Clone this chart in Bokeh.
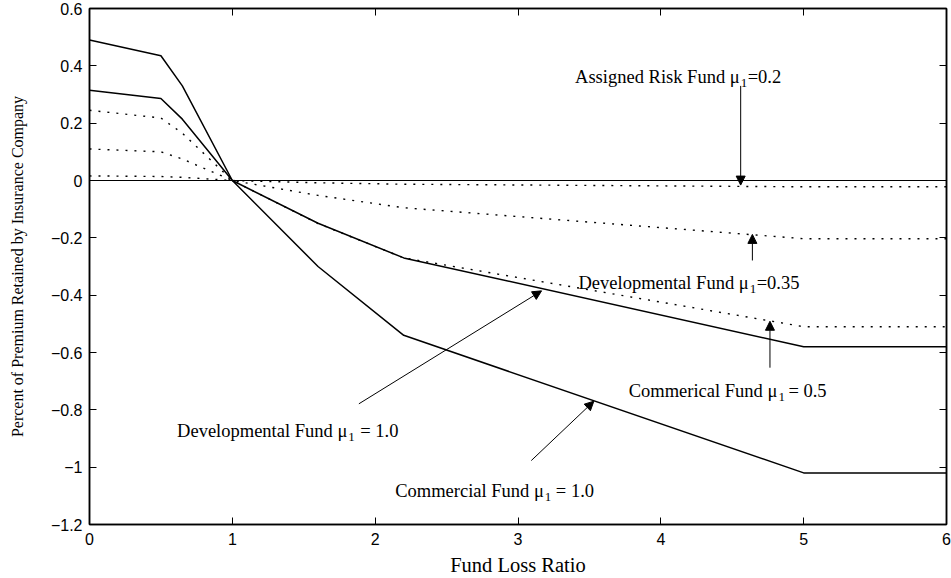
from bokeh.plotting import figure
from bokeh.models import (Range1d, LinearAxis, FixedTicker, Arrow, NormalHead,
                          CustomJSTickFormatter, ColumnDataSource)
from bokeh.core.properties import value
from bokeh.embed import file_html
from bokeh.resources import INLINE

# ---------------- data ----------------
loss_ratio = [0.0, 0.5, 0.65, 1.0, 1.6, 2.2, 5.0, 6.0]
commercial_mu10 = [0.49, 0.435, 0.33, 0.0, -0.30, -0.54, -1.02, -1.02]
developmental_mu10 = [0.315, 0.286, 0.214, 0.0, -0.149, -0.27, -0.58, -0.58]
commercial_mu05 = [0.245, 0.218, 0.165, 0.0, -0.15, -0.27, -0.51, -0.51]
developmental_mu035 = [0.11, 0.10, 0.075, 0.0, -0.052, -0.095, -0.203, -0.203]
assigned_mu02 = [0.016, 0.014, 0.011, 0.0, -0.008, -0.013, -0.022, -0.022]
zero_x = [0.0, 6.0]
zero_y = [0.0, 0.0]

x_ticks = [0, 1, 2, 3, 4, 5, 6]
x_tick_labels = ["0", "1", "2", "3", "4", "5", "6"]
y_ticks = [0.6, 0.4, 0.2, 0.0, -0.2, -0.4, -0.6, -0.8, -1.0, -1.2]
y_tick_labels = ["0.6", "0.4", "0.2", "0", "\u22120.2", "\u22120.4", "\u22120.6",
                 "\u22120.8", "\u22121", "\u22121.2"]

# annotation labels: main part, subscript, remainder (anchored at end of "μ")
ann_main = ["Assigned Risk Fund \u03bc", "Developmental Fund \u03bc",
            "Commerical Fund \u03bc", "Developmental Fund \u03bc",
            "Commercial Fund \u03bc"]
ann_sub = ["1", "1", "1", "1", "1"]
ann_rest = ["=0.2", "=0.35", "= 0.5", "= 1.0", "= 1.0"]
ann_x = [4.552, 4.615, 4.816, 1.805, 3.181]
ann_y = [0.361, -0.357, -0.735, -0.874, -1.084]
ann_rest_gap = [8, 8, 11, 13, 12]

arrow_x0 = [4.559, 4.641, 4.764, 1.886, 3.093]
arrow_y0 = [0.33, -0.279, -0.653, -0.779, -0.977]
arrow_x1 = [4.559, 4.641, 4.764, 3.165, 3.531]
arrow_y1 = [-0.016, -0.188, -0.491, -0.385, -0.770]

SERIF = "Liberation Serif"
SANS = "Liberation Sans"

p = figure(width=951, height=578, output_backend="svg", toolbar_location=None,
           x_range=Range1d(0, 6), y_range=Range1d(-1.2, 0.6),
           min_border_left=89, min_border_right=5, min_border_top=8,
           min_border_bottom=54)
p.background_fill_color = "white"
p.border_fill_color = "white"
p.outline_line_color = "black"
p.outline_line_width = 1.5
p.xgrid.visible = False
p.ygrid.visible = False

FMT_CODE = """
for (let i = 0; i < tv.length; i++) { if (Math.abs(tv[i] - tick) < 1e-9) return tl[i]; }
return '';
"""
fmt_x = CustomJSTickFormatter(args=dict(tv=x_ticks, tl=x_tick_labels), code=FMT_CODE)
fmt_y = CustomJSTickFormatter(args=dict(tv=y_ticks, tl=y_tick_labels), code=FMT_CODE)
fmt_blank = CustomJSTickFormatter(code="return '';")

def style_axis(ax, show_labels):
    ax.axis_line_color = "black"
    ax.axis_line_width = 1.5
    ax.major_tick_line_color = "black"
    ax.major_tick_line_width = 1
    ax.major_tick_in = 7
    ax.major_tick_out = 0
    ax.minor_tick_line_color = None
    if show_labels:
        ax.major_label_text_font = SANS
        ax.major_label_text_font_size = "16px"
        ax.major_label_text_color = "black"
        ax.major_label_standoff = 8
    else:
        ax.major_label_text_font_size = "1px"
        ax.major_label_standoff = 0

xa = p.xaxis[0]
xa.ticker = FixedTicker(ticks=x_ticks)
xa.formatter = fmt_x
style_axis(xa, True)
xa.axis_label = "Fund Loss Ratio"
xa.axis_label_text_font = SERIF
xa.axis_label_text_font_size = "20.5px"
xa.axis_label_text_font_style = "normal"
xa.axis_label_text_color = "black"
xa.axis_label_standoff = 6

ya = p.yaxis[0]
ya.ticker = FixedTicker(ticks=y_ticks)
ya.formatter = fmt_y
style_axis(ya, True)
ya.major_label_standoff = 7
ya.axis_label = "Percent of Premium Retained by Insurance Company"
ya.axis_label_text_font = SERIF
ya.axis_label_text_font_size = "16px"
ya.axis_label_text_font_style = "normal"
ya.axis_label_text_color = "black"
ya.axis_label_standoff = 22

top = LinearAxis(ticker=FixedTicker(ticks=x_ticks), formatter=fmt_blank)
style_axis(top, False)
p.add_layout(top, "above")
right = LinearAxis(ticker=FixedTicker(ticks=y_ticks), formatter=fmt_blank)
style_axis(right, False)
p.add_layout(right, "right")

# curves
p.line(zero_x, zero_y, line_color="black", line_width=1)
p.line(loss_ratio, commercial_mu10, line_color="black", line_width=1.5)
p.line(loss_ratio, developmental_mu10, line_color="black", line_width=1.5)
for ys in (commercial_mu05, developmental_mu035, assigned_mu02):
    p.line(loss_ratio, ys, line_color="black", line_width=1.4, line_dash="2 7")

# arrows
for x0, y0, x1, y1 in zip(arrow_x0, arrow_y0, arrow_x1, arrow_y1):
    p.add_layout(Arrow(end=NormalHead(size=9, fill_color="black", line_color="black", line_width=1),
                       x_start=x0, y_start=y0, x_end=x1, y_end=y1,
                       line_color="black", line_width=1))

# annotation texts
src = ColumnDataSource(dict(x=ann_x, y=ann_y, main=ann_main, sub=ann_sub,
                            rest=ann_rest, gap=ann_rest_gap))
p.text(x="x", y="y", text="main", source=src, text_font=value(SERIF),
       text_font_size="18.5px", text_align="right", text_baseline="alphabetic",
       text_color="black")
p.text(x="x", y="y", text="sub", source=src, text_font=value(SERIF),
       text_font_size="13px", text_align="left", text_baseline="alphabetic",
       text_color="black", x_offset=1, y_offset=6)
p.text(x="x", y="y", text="rest", source=src, text_font=value(SERIF),
       text_font_size="18.5px", text_align="left", text_baseline="alphabetic",
       text_color="black", x_offset="gap")

open("out.html", "w").write(file_html(p, INLINE))
